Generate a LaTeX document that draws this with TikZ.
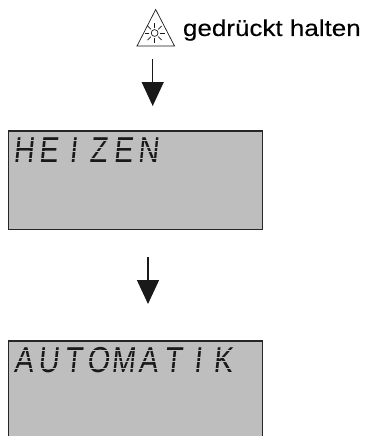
\documentclass[tikz,border=0pt]{standalone}
\usepackage{fontspec}
\usetikzlibrary{arrows.meta,calc}
\setmainfont{Liberation Sans}
\newfontfamily\labelfont[FakeStretch=1.13,FakeBold=0.12]{Liberation Sans}
\newfontfamily\lcdfont[FakeStretch=0.8,FakeSlant=0.1]{Liberation Sans}
\newcommand{\lcdcell}[1]{\makebox[24.9pt][c]{#1}}
\definecolor{lcdgrey}{HTML}{BEBEBE}
\tikzset{
  display/.style={draw=black!85,line width=1.5pt,fill=lcdgrey},
  lcdtext/.style={anchor=base west,inner sep=0pt,outer sep=0pt,text=black!90,font=\lcdfont\fontsize{36}{36}\selectfont},
  lcdgap/.style={draw=lcdgrey,line width=0.8pt},
  flow/.style={draw=black!90,line width=1.4pt,-{Triangle[length=24pt,width=22pt]}},
  caption/.style={anchor=base west,inner sep=0pt,outer sep=0pt,font=\labelfont\fontsize{23}{23}\selectfont},
  thinline/.style={line width=0.7pt,draw=black!90}
}
\begin{document}
\begin{tikzpicture}[x=1pt,y=-1pt]
\useasboundingbox (0,0) rectangle (365,436);
% button icon
\draw[thinline,line join=miter] (155.7,9.5) -- (137,46) -- (174.5,46) -- cycle;
\draw[thinline] (154.6,33) circle (3.4);
\foreach \a in {0,45,...,315}
  \draw[thinline] ($(154.6,33)+(\a:5.2)$) -- ($(154.6,33)+(\a:10)$);
\node[caption] (hold) at (183,36) {gedrückt halten};
% displays
\path[display] (8.3,130.8) rectangle (262.3,229.7);
\path[display] (8.3,340.8) rectangle (262.3,445);
\node[lcdtext] (heizen) at (11,162) {\lcdcell{H}\lcdcell{E}\lcdcell{I}\lcdcell{Z}\lcdcell{E}\lcdcell{N}};
\node[lcdtext] (automatik) at (11,372) {\lcdcell{A}\lcdcell{U}\lcdcell{T}\lcdcell{O}\lcdcell{M}\lcdcell{A}\lcdcell{T}\lcdcell{I}\lcdcell{K}};
% segment gaps of the LCD characters
\foreach \y in {140.1,147.1,151.1,158.4}
  \draw[lcdgap] (11,\y) -- (165,\y);
\foreach \y in {350.1,357.1,361.1,368.4}
  \draw[lcdgap] (11,\y) -- (240,\y);
% connectors
\coordinate (a1s) at (152.7,59);
\coordinate (a1e) at (152.7,106);
\coordinate (a2s) at (148,257);
\coordinate (a2e) at (148,304);
\draw[flow] (a1s) -- (a1e);
\draw[flow] (a2s) -- (a2e);
\end{tikzpicture}
\end{document}
